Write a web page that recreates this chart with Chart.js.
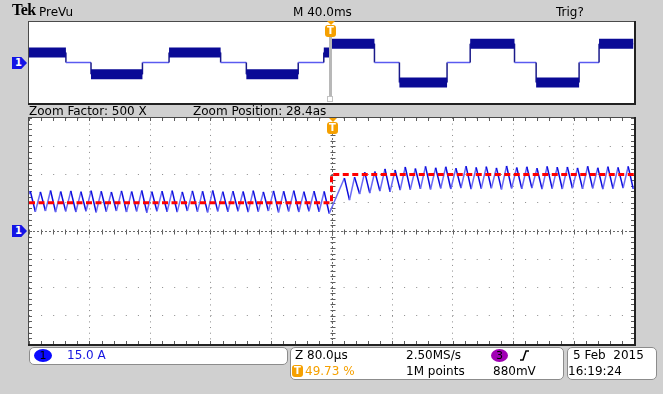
<!DOCTYPE html>
<html>
<head>
<meta charset="utf-8">
<title>Tek PreVu</title>
<script src="https://cdn.jsdelivr.net/npm/chart.js@4.4.1/dist/chart.umd.min.js"></script>
<style>
  body { margin: 0; background: #d0d0d0; }
  #scope { position: relative; width: 663px; height: 394px; overflow: hidden; background: #d0d0d0;
           font-family: "DejaVu Sans", sans-serif; font-size: 12px; color: #000; }
  #scope canvas { position: absolute; left: 0; top: 0; }
  .lbl { position: absolute; white-space: pre; line-height: 14px; }
  .box { position: absolute; background: #fff; border: 1px solid #8c8c8c; border-radius: 5px; box-sizing: border-box; }
  .chmark { position: absolute; width: 15px; height: 12px; background: #1414e6; color: #fff; font-size: 10px;
            font-weight: bold; line-height: 12px; padding-left: 3px; box-sizing: border-box;
            clip-path: polygon(0 0, 62% 0, 100% 50%, 62% 100%, 0 100%); }
  .trig { position: absolute; width: 11px; }
  .trig .arrow { width: 0; height: 0; border-left: 4px solid transparent; border-right: 4px solid transparent;
                 border-top: 4px solid #f5a000; margin: 0 auto; }
  .tbox { width: 11px; height: 12px; background: #f5a000; border-radius: 3px; color: #fff; font-weight: bold;
          font-size: 10px; line-height: 12px; text-align: center; }
  .dot { position: absolute; height: 13px; border-radius: 50%; text-align: center; line-height: 13px; font-size: 11px; }
</style>
</head>
<body>
<div id="scope">
  <canvas id="main" width="663" height="394"></canvas>
  <canvas id="prevu" width="663" height="394"></canvas>

  <div class="lbl" style="left:12px;top:3px;font-family:'Liberation Serif',serif;font-weight:bold;font-size:16px;letter-spacing:-0.5px;">Tek</div>
  <div class="lbl" style="left:39px;top:5px;">PreVu</div>
  <div class="lbl" style="left:293px;top:5px;">M 40.0ms</div>
  <div class="lbl" style="left:556px;top:5px;">Trig?</div>
  <div class="lbl" style="left:29px;top:104px;">Zoom Factor: 500 X</div>
  <div class="lbl" style="left:193px;top:104px;">Zoom Position: 28.4as</div>

  <div class="chmark" id="mark-prevu" style="left:12px;">1</div>
  <div class="chmark" id="mark-main" style="left:12px;">1</div>
  <div class="trig" id="trig-prevu"><div class="arrow"></div><div class="tbox">T</div></div>
  <div class="trig" id="trig-main"><div class="arrow"></div><div class="tbox">T</div></div>

  <div class="box" style="left:29px;top:347px;width:259px;height:18px;"></div>
  <div class="dot" style="left:34px;top:349px;width:18px;background:#0a0aff;">1</div>
  <div class="lbl" style="left:67px;top:348px;color:#1515e0;">15.0 A</div>

  <div class="box" style="left:290px;top:347px;width:274px;height:33px;"></div>
  <div class="lbl" style="left:295px;top:348px;">Z 80.0µs</div>
  <div class="lbl" style="left:406px;top:348px;">2.50MS/s</div>
  <div class="dot" style="left:491px;top:349px;width:17px;background:#a000b4;">3</div>
  <svg style="position:absolute;left:519px;top:349px;" width="12" height="13"><polyline points="1,11 4,11 7,2 10,2" fill="none" stroke="#000" stroke-width="1.5"/></svg>
  <div class="tbox" style="position:absolute;left:292px;top:365px;">T</div>
  <div class="lbl" style="left:305px;top:364px;color:#f5a000;">49.73 %</div>
  <div class="lbl" style="left:406px;top:364px;">1M points</div>
  <div class="lbl" style="left:493px;top:364px;">880mV</div>

  <div class="box" style="left:567px;top:347px;width:90px;height:33px;"></div>
  <div class="lbl" style="left:573px;top:348px;">5 Feb  2015</div>
  <div class="lbl" style="left:568px;top:364px;">16:19:24</div>
</div>

<script>
// zoom window: time in µs (80 µs/div), current in A (15 A/div)
const timeRange = [-400, 400];
const ampRange = [-60, 60];
const timeDiv = 80;
const ampDiv = 15;

// red reference (set point)
const setpointTimes = [-400, 0, 0, 400];
const setpointAmps = [15, 15, 30, 30];

const currentTimes = [
  -400, -398.3, -391.6, -384.9, -378.2, -371.5, -364.8, -358.1, -351.4, -344.7, -338.0,
  -331.3, -324.6, -317.9, -311.2, -304.5, -297.8, -291.1, -284.4, -277.7, -271.0,
  -264.3, -257.6, -250.9, -244.2, -237.5, -230.8, -224.1, -217.4, -210.7, -204.0,
  -197.3, -190.6, -183.9, -177.2, -170.5, -163.8, -157.1, -150.4, -143.7, -137.0,
  -130.3, -123.6, -116.9, -110.2, -103.5, -96.8, -90.1, -83.4, -76.7, -70.0,
  -63.3, -56.6, -49.9, -43.2, -36.5, -29.8, -23.1, -16.4, -9.7, -3.0,
  17.1, 23.8, 30.5, 37.2, 43.9, 50.6, 57.3, 64.0, 70.7, 77.4,
  84.1, 90.8, 97.5, 104.2, 110.9, 117.6, 124.3, 131.0, 137.7, 144.4,
  151.1, 157.8, 164.5, 171.2, 177.9, 184.6, 191.3, 198.0, 204.7, 211.4,
  218.1, 224.8, 231.5, 238.2, 244.9, 251.6, 258.3, 265.0, 271.7, 278.4,
  285.1, 291.8, 298.5, 305.2, 311.9, 318.6, 325.3, 332.0, 338.7, 345.4,
  352.1, 358.8, 365.5, 372.2, 378.9, 385.6, 392.3, 399.0, 400
];
const currentAmps = [
  19.5, 21.2, 10.2, 20.8, 10.6, 21.5, 10.0, 21.0, 10.4, 21.3, 10.1,
  20.9, 10.5, 21.4, 9.9, 21.1, 10.3, 20.7, 10.6, 21.3, 10.1,
  21.0, 10.4, 21.5, 9.8, 20.9, 10.5, 21.2, 10.2, 21.4, 10.0,
  20.8, 10.6, 21.3, 10.3, 21.1, 9.9, 21.5, 10.4, 20.9, 10.2,
  21.2, 10.5, 21.0, 10.0, 21.4, 10.3, 20.8, 10.6, 21.3, 9.9,
  21.1, 10.4, 21.4, 10.1, 20.9, 10.5, 21.2, 10.2, 21.0, 9.3,
  28.1, 16.4, 28.6, 19.6, 31.3, 20.1, 31.6, 21.2, 33.0, 20.8,
  32.4, 21.7, 34.0, 22.0, 33.2, 22.4, 34.3, 22.1, 33.6, 22.6,
  34.1, 22.3, 33.4, 22.8, 34.4, 22.2, 33.8, 22.5, 34.2, 22.7,
  33.5, 22.1, 34.5, 22.6, 33.7, 22.4, 34.1, 22.8, 33.4, 22.2,
  34.3, 22.5, 33.9, 22.3, 34.0, 22.7, 33.5, 22.4, 34.4, 22.6,
  33.6, 22.2, 34.2, 22.5, 33.8, 22.8, 34.3, 22.4, 23.8
];

// PreVu window: time in ms (40 ms/div), level in divisions
const prevuRange = [-200, 200];
const prevuLevelRange = [-4, 4];
const stepTimes = [-200, -175.6, -159, -125, -107.4, -73.3, -56.3, -22, -5.1, -1.1,
                   28.4, 44.9, 76.4, 91.7, 121, 135.3, 163.7, 176.9, 199.5];
const stepLevels = [1.0, 0, -1.16, 0, 1.0, 0, -1.16, 0, 1.0, 1.86,
                    0, -1.98, 0, 1.86, 0, -1.98, 0, 1.86, 1.86];
const triggerTime = -1.1;

const blueRise = '#6a6af5';
const blueFall = '#0c0cdc';

// white plot area, Tek style tick marks, frame
const graticule = {
  id: 'graticule',
  beforeDraw(chart) {
    const {ctx, chartArea: a} = chart;
    ctx.save();
    ctx.fillStyle = '#fff';
    ctx.fillRect(a.left, a.top, a.right - a.left, a.bottom - a.top);
    ctx.restore();
  },
  beforeDatasetsDraw(chart, args, opts) {
    if (!opts.marks) return;
    const {ctx, chartArea: a, scales: {x, y}} = chart;
    const cx = Math.round(x.getPixelForValue(0)) + 0.5;
    const cy = Math.round(y.getPixelForValue(0)) + 0.5;
    const stepX = (x.getPixelForValue(opts.xDiv) - x.getPixelForValue(0)) / 5;
    const stepY = (y.getPixelForValue(0) - y.getPixelForValue(opts.yDiv)) / 5;
    ctx.save();
    ctx.strokeStyle = '#5c5c5c';
    ctx.lineWidth = 1;
    ctx.beginPath();
    for (let px = a.left; px <= a.right + 0.5; px += stepX) {
      const p = Math.round(px) + 0.5;
      ctx.moveTo(p, cy - 2); ctx.lineTo(p, cy + 3);
      ctx.moveTo(p, a.top); ctx.lineTo(p, a.top + 3);
      ctx.moveTo(p, a.bottom); ctx.lineTo(p, a.bottom - 3);
    }
    for (let py = a.top; py <= a.bottom + 0.5; py += stepY) {
      const p = Math.round(py) + 0.5;
      ctx.moveTo(cx - 2, p); ctx.lineTo(cx + 3, p);
      ctx.moveTo(a.left, p); ctx.lineTo(a.left + 3, p);
      ctx.moveTo(a.right, p); ctx.lineTo(a.right - 3, p);
    }
    ctx.stroke();
    ctx.setLineDash([2, 2]);
    ctx.strokeStyle = '#6a6a6a';
    ctx.beginPath();
    ctx.moveTo(a.left, cy); ctx.lineTo(a.right, cy);
    ctx.moveTo(cx, a.top); ctx.lineTo(cx, a.bottom);
    ctx.stroke();
    ctx.restore();
  },
  afterDatasetsDraw(chart) {
    const {ctx, chartArea: a} = chart;
    ctx.save();
    ctx.strokeStyle = '#4a4a4a';
    ctx.lineWidth = 1;
    ctx.strokeRect(a.left - 0.5, a.top - 0.5, a.right - a.left + 1, a.bottom - a.top + 1);
    ctx.strokeStyle = '#222';
    ctx.lineWidth = 2;
    ctx.beginPath();
    ctx.moveTo(a.left - 1, a.bottom + 1); ctx.lineTo(a.right + 1, a.bottom + 1);
    ctx.lineTo(a.right + 1, a.top - 1);
    ctx.stroke();
    ctx.restore();
  }
};

// gray zoom-position bar in PreVu
const zoomMarker = {
  id: 'zoomMarker',
  afterDatasetsDraw(chart, args, opts) {
    const {ctx, chartArea: a, scales: {x}} = chart;
    const px = Math.round(x.getPixelForValue(opts.at));
    ctx.save();
    ctx.fillStyle = '#b8b8b8';
    ctx.fillRect(px - 1, a.top + 14, 3, a.bottom - a.top - 21);
    ctx.strokeStyle = '#c2c2c2';
    ctx.lineWidth = 1;
    ctx.strokeRect(px - 2.5, a.bottom - 6.5, 5, 5);
    ctx.restore();
  }
};

const mainChart = new Chart(document.getElementById('main'), {
  type: 'line',
  data: {
    datasets: [
      {
        data: setpointTimes.map((t, i) => ({x: t, y: setpointAmps[i]})),
        borderColor: '#ff0000',
        borderWidth: 3,
        borderDash: [6, 3.5],
        pointRadius: 0
      },
      {
        data: currentTimes.map((t, i) => ({x: t, y: currentAmps[i]})),
        borderColor: blueFall,
        borderWidth: 1.5,
        pointRadius: 0,
        segment: {
          borderColor: c => c.p1.parsed.y >= c.p0.parsed.y ? blueRise : blueFall
        }
      }
    ]
  },
  options: {
    responsive: false,
    animation: false,
    devicePixelRatio: 1,
    events: [],
    layout: {padding: {left: 29, top: 118, right: 29, bottom: 50}},
    plugins: {
      legend: {display: false},
      tooltip: {enabled: false},
      graticule: {marks: true, xDiv: timeDiv, yDiv: ampDiv}
    },
    scales: {
      x: {
        type: 'linear', min: timeRange[0], max: timeRange[1],
        ticks: {display: false, stepSize: timeDiv},
        grid: {drawTicks: false, color: '#8a8a8a', lineWidth: 1},
        border: {display: false, dash: [1, 4.65]}
      },
      y: {
        type: 'linear', min: ampRange[0], max: ampRange[1],
        ticks: {display: false, stepSize: ampDiv},
        grid: {drawTicks: false, color: '#8a8a8a', lineWidth: 1},
        border: {display: false, dash: [1, 11.1]}
      }
    }
  },
  plugins: [graticule]
});

// PreVu: thin staircase plus thick noisy bands on the non-zero levels
const stairPoints = [{x: stepTimes[0], y: stepLevels[0]}];
for (let i = 1; i < stepTimes.length; i++) {
  stairPoints.push({x: stepTimes[i], y: stepLevels[i - 1]});
  stairPoints.push({x: stepTimes[i], y: stepLevels[i]});
}
const bandPoints = [];
for (let i = 0; i < stepTimes.length - 1; i++) {
  if (stepLevels[i] === 0) continue;
  bandPoints.push({x: stepTimes[i], y: stepLevels[i]});
  bandPoints.push({x: stepTimes[i + 1], y: stepLevels[i]});
  bandPoints.push({x: stepTimes[i + 1], y: null});
}

const prevuChart = new Chart(document.getElementById('prevu'), {
  type: 'line',
  data: {
    datasets: [
      {
        data: bandPoints,
        borderColor: '#0a0a96',
        borderWidth: 10,
        borderCapStyle: 'butt',
        spanGaps: false,
        pointRadius: 0
      },
      {
        data: stairPoints,
        borderColor: '#000080',
        borderWidth: 1.5,
        pointRadius: 0,
        segment: {
          borderColor: c => c.p0.parsed.x === c.p1.parsed.x ? '#1a1a8a' : '#5a5af0'
        }
      }
    ]
  },
  options: {
    responsive: false,
    animation: false,
    devicePixelRatio: 1,
    events: [],
    layout: {padding: {left: 29, top: 22, right: 29, bottom: 291}},
    plugins: {
      legend: {display: false},
      tooltip: {enabled: false},
      graticule: {marks: false},
      zoomMarker: {at: triggerTime}
    },
    scales: {
      x: {type: 'linear', display: false, min: prevuRange[0], max: prevuRange[1]},
      y: {type: 'linear', display: false, min: prevuLevelRange[0], max: prevuLevelRange[1]}
    }
  },
  plugins: [graticule, zoomMarker]
});

// place channel and trigger markers from the scales
const place = (id, left, top) => {
  const el = document.getElementById(id);
  if (left !== null) el.style.left = left + 'px';
  el.style.top = top + 'px';
};
place('mark-prevu', null, Math.round(prevuChart.scales.y.getPixelForValue(0)) - 6);
place('mark-main', null, Math.round(mainChart.scales.y.getPixelForValue(0)) - 6);
place('trig-prevu', Math.round(prevuChart.scales.x.getPixelForValue(triggerTime)) - 5, prevuChart.chartArea.top - 1);
place('trig-main', Math.round(mainChart.scales.x.getPixelForValue(0)) - 5, mainChart.chartArea.top);
</script>
</body>
</html>
